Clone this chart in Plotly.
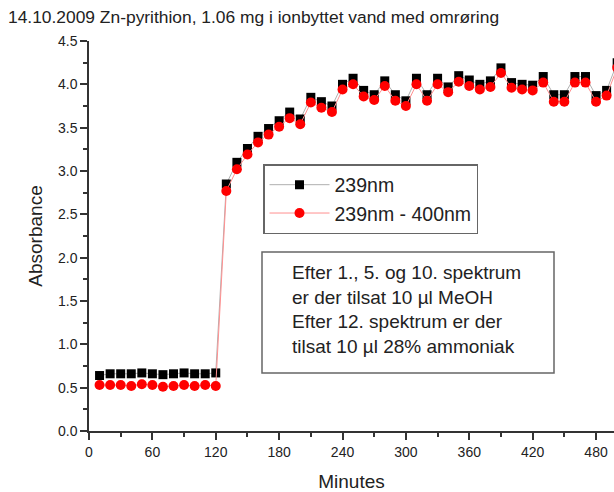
import plotly.graph_objects as go

minutes = list(range(10, 510, 10))
abs_239 = [0.64, 0.66, 0.66, 0.66, 0.67, 0.66, 0.65, 0.66, 0.67, 0.66, 0.66, 0.67,
           2.85, 3.10, 3.26, 3.40, 3.49, 3.58, 3.68, 3.60, 3.85, 3.80, 3.75, 4.00,
           4.07, 3.93, 3.88, 4.04, 3.88, 3.81, 4.07, 3.88, 4.07, 3.97, 4.10, 4.05,
           4.00, 4.04, 4.19, 4.02, 4.00, 3.99, 4.09, 3.88, 3.88, 4.09, 4.09, 3.87,
           3.93, 4.25]
abs_diff = [0.53, 0.53, 0.53, 0.52, 0.54, 0.53, 0.51, 0.52, 0.53, 0.52, 0.53, 0.52,
            2.77, 3.02, 3.19, 3.33, 3.42, 3.51, 3.61, 3.54, 3.79, 3.73, 3.68, 3.94,
            4.00, 3.86, 3.82, 3.98, 3.81, 3.75, 4.00, 3.81, 4.00, 3.91, 4.03, 3.98,
            3.94, 3.97, 4.13, 3.96, 3.94, 3.93, 4.02, 3.80, 3.80, 4.02, 4.02, 3.80,
            3.87, 4.19]
x_ticks = [0, 60, 120, 180, 240, 300, 360, 420, 480]
y_ticks = [0.0, 0.5, 1.0, 1.5, 2.0, 2.5, 3.0, 3.5, 4.0, 4.5]

FONT = "Liberation Sans, Arial, sans-serif"
TXT = "#222222"

fig = go.Figure()
fig.add_trace(go.Scatter(
    x=minutes, y=abs_239, name="239nm", mode="lines+markers",
    line=dict(color="#b0b0b0", width=1),
    marker=dict(symbol="square", size=9, color="black"),
))
fig.add_trace(go.Scatter(
    x=minutes, y=abs_diff, name="239nm - 400nm", mode="lines+markers",
    line=dict(color="#ff9090", width=1),
    marker=dict(symbol="circle", size=10, color="#ff0000"),
))

axis_common = dict(
    showline=True, linecolor="#333333", linewidth=1.5,
    ticks="outside", ticklen=7, tickwidth=1.5, tickcolor="#333333",
    showgrid=False, zeroline=False, mirror=False,
    tickfont=dict(family=FONT, size=14, color=TXT),
)

fig.update_xaxes(
    range=[0, 497], tickvals=x_ticks, ticktext=[str(v) for v in x_ticks],
    minor=dict(dtick=30, tick0=0, ticks="outside", ticklen=4, tickwidth=1.5, tickcolor="#333333"),
    title=dict(text="Minutes", font=dict(family=FONT, size=19, color=TXT), standoff=17),
    **axis_common,
)
fig.update_yaxes(
    range=[0, 4.5], tickvals=y_ticks, ticktext=[f"{v:.1f}" for v in y_ticks],
    minor=dict(dtick=0.25, tick0=0, ticks="outside", ticklen=4, tickwidth=1.5, tickcolor="#333333"),
    title=dict(text="Absorbance", font=dict(family=FONT, size=19, color=TXT), standoff=10),
    **axis_common,
)

def px_x(p):
    return (p - 89) / 525

def px_y(p):
    return (431 - p) / 390

fig.add_shape(
    type="rect", xref="paper", yref="paper",
    x0=px_x(262), x1=px_x(554), y0=px_y(373), y1=px_y(252),
    line=dict(color="#666666", width=1.5), fillcolor="white", layer="below",
)
fig.add_annotation(
    xref="paper", yref="paper", x=px_x(290), y=px_y(309),
    xanchor="left", yanchor="middle", showarrow=False, align="left",
    text="Efter 1., 5. og 10. spektrum<br>er der tilsat 10 µl MeOH<br>Efter 12. spektrum er der<br>tilsat 10 µl 28% ammoniak",
    font=dict(family=FONT, size=19, color=TXT),
)

fig.update_layout(
    width=614, height=492,
    margin=dict(l=89, r=0, t=41, b=61),
    paper_bgcolor="white", plot_bgcolor="white",
    title=dict(text="14.10.2009 Zn-pyrithion, 1.06 mg i ionbyttet vand med omrøring",
               x=8 / 614, xanchor="left", xref="container",
               y=1 - 17 / 492, yanchor="middle", yref="container",
               font=dict(family=FONT, size=17.4, color=TXT)),
    legend=dict(
        x=px_x(263), y=px_y(164), xanchor="left", yanchor="top",
        bordercolor="#666666", borderwidth=1.5, bgcolor="white",
        font=dict(family=FONT, size=19.5, color=TXT),
        itemwidth=60, tracegroupgap=0,
    ),
    showlegend=True,
)

fig.write_html("out.html")
